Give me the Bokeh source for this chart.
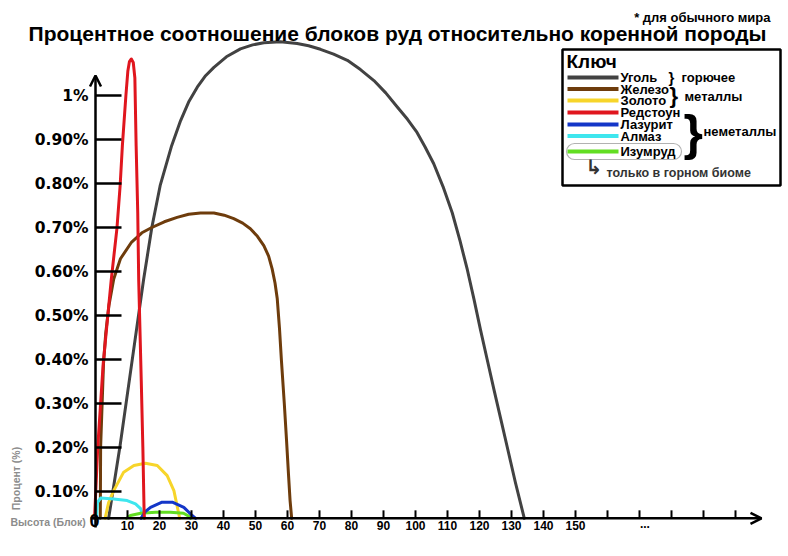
from math import pi
from bokeh.plotting import figure
from bokeh.models import Range1d, Arrow, OpenHead, BoxAnnotation
from bokeh.core.properties import value
from bokeh.embed import file_html
from bokeh.resources import INLINE

# ---------------- data ----------------
TITLE = "Процентное соотношение блоков руд относительно коренной породы"
SUBTITLE = "* для обычного мира"
X_LABEL = "Высота (Блок)"
Y_LABEL = "Процент (%)"

BASE = 0.039  # level (in % of the tick scale) where the drawn x axis sits

coal_x = [4.1, 7.7, 11.3, 15.0, 17.6, 20.2, 23.8, 26.6, 29.1, 31.8, 34.4, 37.0, 40.9, 45.3, 49.1,
          52.6, 57.8, 63.0, 66.6, 70.3, 74.4, 78.7, 82.8, 87.0, 90.7, 94.3, 97.5, 100.3, 103.0,
          105.7, 108.6, 111.5, 113.9, 116.2, 118.3, 120.3, 122.4, 124.5, 126.6, 128.7, 131.2, 134.0]
coal_y = [0.039, 0.205, 0.39, 0.58, 0.70, 0.795, 0.886, 0.943, 0.985, 1.019, 1.045, 1.064, 1.088,
          1.106, 1.115, 1.120, 1.122, 1.118, 1.113, 1.105, 1.094, 1.080, 1.059, 1.034, 1.006, 0.974,
          0.946, 0.918, 0.883, 0.845, 0.793, 0.733, 0.670, 0.604, 0.536, 0.468, 0.400, 0.332,
          0.266, 0.200, 0.121, 0.039]

iron_x = [1.5, 1.6, 2.5, 3.2, 4.2, 5.7, 7.8, 11.3, 14.5, 17.6, 21.5, 25.5, 29.1, 32.8, 37.0, 40.2,
          43.2, 46.0, 48.4, 50.6, 52.6, 54.1, 55.2, 56.1, 56.8, 57.5, 58.1, 59.0, 59.7, 60.3, 60.8, 61.3]
iron_y = [0.039, 0.20, 0.39, 0.46, 0.523, 0.583, 0.629, 0.667, 0.688, 0.700, 0.713, 0.723, 0.730,
          0.733, 0.733, 0.728, 0.720, 0.710, 0.697, 0.680, 0.659, 0.635, 0.606, 0.574, 0.538, 0.47,
          0.398, 0.30, 0.216, 0.14, 0.08, 0.039]

gold_x = [3.0, 4.1, 5.7, 8.8, 12.0, 15.6, 19.3, 22.4, 24.5, 26.0, 26.3]
gold_y = [0.039, 0.075, 0.102, 0.144, 0.159, 0.164, 0.159, 0.136, 0.102, 0.05, 0.039]

redstone_x = [-0.3, 0.7, 2.4, 4.9, 6.7, 7.7, 8.4, 9.5, 10.1, 10.6, 11.2, 11.8, 12.3, 12.7, 13.2,
              13.5, 14.3, 14.8, 15.2, 15.3]
redstone_y = [0.039, 0.20, 0.39, 0.58, 0.698, 0.795, 0.886, 1.0, 1.055, 1.077, 1.083, 1.075, 1.04,
              0.886, 0.734, 0.58, 0.352, 0.20, 0.05, 0.039]

lapis_x = [14.2, 15.6, 17.2, 20.8, 24.0, 27.6, 30.2, 31.3]
lapis_y = [0.039, 0.0545, 0.064, 0.0757, 0.0757, 0.064, 0.0455, 0.039]

diamond_x = [0.3, 0.6, 1.6, 5.7, 9.9, 12.5, 14.1, 14.9, 15.0]
diamond_y = [0.039, 0.075, 0.085, 0.083, 0.0795, 0.072, 0.061, 0.042, 0.039]

emerald_x = [9.7, 10.9, 14.1, 18.8, 23.4, 27.5, 29.4, 29.7]
emerald_y = [0.039, 0.0455, 0.0507, 0.053, 0.053, 0.0507, 0.043, 0.039]

series_names = ["Уголь", "Железо", "Золото", "Редстоун", "Лазурит", "Алмаз", "Изумруд"]
series_colors = ["#424242", "#6e3c0c", "#f7d52a", "#e0161e", "#1436c8", "#3ee6ee", "#62de22"]
series_data = [(coal_x, coal_y), (iron_x, iron_y), (gold_x, gold_y), (redstone_x, redstone_y),
               (lapis_x, lapis_y), (diamond_x, diamond_y), (emerald_x, emerald_y)]
draw_order = [0, 1, 2, 5, 6, 4, 3]

x_ticks = [10, 20, 30, 40, 50, 60, 70, 80, 90, 100, 110, 120, 130, 140, 150,
           160, 170, 180, 190, 200]
x_tick_labels = ["10", "20", "30", "40", "50", "60", "70", "80", "90", "100",
                 "110", "120", "130", "140", "150", "", "", "", "", ""]
x_ellipsis = 171.7
y_ticks = [0.1, 0.2, 0.3, 0.4, 0.5, 0.6, 0.7, 0.8, 0.9, 1.0]
y_tick_labels = ["0.10%", "0.20%", "0.30%", "0.40%", "0.50%", "0.60%", "0.70%",
                 "0.80%", "0.90%", "1%"]

group_labels = ["горючее", "металлы", "неметаллы"]
biome_note = "только в горном биоме"

# ---------------- layout helpers (pixel -> data) ----------------
W, H = 788, 556
X0_PX, PX_PER_UNIT_X = 95, 3.2
Y_REF_PX, PX_PER_UNIT_Y = 491, 440


def px_x(px):
    return (px - X0_PX) / PX_PER_UNIT_X


def px_y(py):
    return 0.1 + (Y_REF_PX - py) / PX_PER_UNIT_Y


p = figure(width=W, height=H, output_backend="svg", toolbar_location=None,
           x_range=Range1d(px_x(0), px_x(W)), y_range=Range1d(px_y(H), px_y(0)),
           x_axis_location=None, y_axis_location=None, min_border=0,
           background_fill_color="white", border_fill_color="white")
p.outline_line_color = None
p.grid.visible = False

BOLD = "bold"
ARIAL = value("Liberation Sans")

# ---------------- curves ----------------
for i in draw_order:
    xs, ys = series_data[i]
    p.line(xs, ys, line_color=series_colors[i], line_width=3, line_join="round", line_cap="round")

# ---------------- axes ----------------
p.add_layout(Arrow(end=OpenHead(size=11, line_width=2.5, line_color="black"),
                   x_start=0, y_start=px_y(527), x_end=0, y_end=px_y(75),
                   line_width=2.5, line_color="black"))
p.add_layout(Arrow(end=OpenHead(size=11, line_width=2.5, line_color="black"),
                   x_start=px_x(90), y_start=BASE, x_end=px_x(761), y_end=BASE,
                   line_width=2.5, line_color="black"))

tick_len_y = 26 / PX_PER_UNIT_X
p.segment(x0=[0] * len(y_ticks), y0=y_ticks, x1=[tick_len_y] * len(y_ticks), y1=y_ticks,
          line_color="black", line_width=2.5)
tick_len_x = 8 / PX_PER_UNIT_Y
p.segment(x0=x_ticks, y0=[BASE] * len(x_ticks), x1=x_ticks, y1=[BASE + tick_len_x] * len(x_ticks),
          line_color="black", line_width=2)

p.text(x=[px_x(88)] * len(y_ticks), y=y_ticks, text=y_tick_labels,
       text_font=value("DejaVu Sans"), text_font_style=BOLD, text_font_size="15.5px",
       text_align="right", text_baseline="middle", text_color="black")
p.text(x=x_ticks, y=[BASE - 3 / PX_PER_UNIT_Y] * len(x_ticks), text=x_tick_labels,
       text_font=ARIAL, text_font_style=BOLD, text_font_size="12px",
       text_align="center", text_baseline="top", text_color="black")
p.text(x=[x_ellipsis], y=[BASE - 1 / PX_PER_UNIT_Y], text=["..."],
       text_font=ARIAL, text_font_style=BOLD, text_font_size="12px",
       text_align="center", text_baseline="top", text_color="black")
p.text(x=[px_x(94)], y=[px_y(520)], text=["0"],
       text_font=ARIAL, text_font_style=BOLD, text_font_size="18px",
       text_align="center", text_baseline="middle", text_color="black")
p.text(x=[px_x(10)], y=[px_y(521)], text=[X_LABEL],
       text_font=ARIAL, text_font_style=BOLD, text_font_size="10.5px",
       text_align="left", text_baseline="middle", text_color="#8c8c8c")
p.text(x=[px_x(15)], y=[px_y(478)], text=[Y_LABEL], angle=pi / 2,
       text_font=ARIAL, text_font_style=BOLD, text_font_size="10.5px",
       text_align="center", text_baseline="middle", text_color="#8c8c8c")

# ---------------- titles ----------------
p.text(x=[px_x(397)], y=[px_y(33)], text=[TITLE],
       text_font=ARIAL, text_font_style=BOLD, text_font_size="21px",
       text_align="center", text_baseline="middle", text_color="black")
p.text(x=[px_x(770)], y=[px_y(17)], text=[SUBTITLE],
       text_font=ARIAL, text_font_style=BOLD, text_font_size="13px",
       text_align="right", text_baseline="middle", text_color="black")

# ---------------- key box ----------------
p.quad(left=[px_x(562)], right=[px_x(780)], top=[px_y(49)], bottom=[px_y(185)],
       fill_color="white", line_color="black", line_width=2.5)
p.text(x=[px_x(566)], y=[px_y(61)], text=["Ключ"],
       text_font=ARIAL, text_font_style=BOLD, text_font_size="19px",
       text_align="left", text_baseline="middle", text_color="black")

row_py = [77, 88.5, 100, 112, 124, 135.5, 151]
p.segment(x0=[px_x(567)] * 7, x1=[px_x(618)] * 7, y0=[px_y(r) for r in row_py],
          y1=[px_y(r) for r in row_py], line_color=series_colors, line_width=4)
p.text(x=[px_x(620)] * 7, y=[px_y(r) for r in row_py], text=series_names,
       text_font=ARIAL, text_font_style=BOLD, text_font_size="13px",
       text_align="left", text_baseline="middle", text_color="black")

p.add_layout(BoxAnnotation(left=px_x(566), right=px_x(681), top=px_y(143), bottom=px_y(159),
                           fill_alpha=0, line_color="black", line_width=1.2, border_radius=8))

# braces
p.text(x=[px_x(668)], y=[px_y(77)], text=["}"], text_font=ARIAL, text_font_style=BOLD,
       text_font_size="15px", text_align="left", text_baseline="middle", text_color="black")
p.text(x=[px_x(669)], y=[px_y(95)], text=["}"], text_font=ARIAL, text_font_style=BOLD,
       text_font_size="22px", text_align="left", text_baseline="middle", text_color="black")
p.text(x=[px_x(683)], y=[px_y(132)], text=["}"], text_font=ARIAL, text_font_style=BOLD,
       text_font_size="50px", text_align="left", text_baseline="middle", text_color="black")
p.text(x=[px_x(681), px_x(684), px_x(703)], y=[px_y(77), px_y(96), px_y(131)], text=group_labels,
       text_font=ARIAL, text_font_style=BOLD, text_font_size="13px",
       text_align="left", text_baseline="middle", text_color="black")
p.text(x=[px_x(585)], y=[px_y(166)], text=["↳"], text_font=value("DejaVu Sans"),
       text_font_style=BOLD, text_font_size="20px", text_align="left", text_baseline="middle",
       text_color="#333333")
p.text(x=[px_x(606)], y=[px_y(172)], text=[biome_note],
       text_font=ARIAL, text_font_style=BOLD, text_font_size="12.5px",
       text_align="left", text_baseline="middle", text_color="#333333")

open("out.html", "w").write(file_html(p, INLINE))
